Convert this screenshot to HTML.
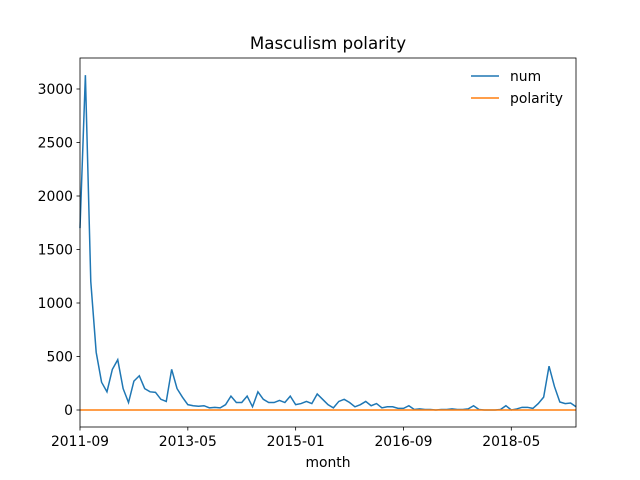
<!DOCTYPE html>
<html><head><meta charset="utf-8"><style>body{margin:0;background:#fff}svg{display:block}text{font-family:"DejaVu Sans","Liberation Sans",sans-serif}</style></head>
<body>
<svg id="c" width="640" height="480"></svg>
<script>
const num=[1700,3130,1200,540,260,170,380,470,200,70,270,320,200,170,165,100,80,380,200,120,50,40,35,40,20,25,20,50,130,70,70,130,30,170,100,70,70,90,70,130,50,60,80,60,150,100,50,20,80,100,70,30,50,80,40,60,20,30,30,15,15,40,5,10,5,5,0,5,5,10,5,5,10,40,5,0,0,0,5,40,0,10,25,25,15,60,120,410,220,75,60,65,30];
const polarity=num.map(()=>0);
const yTicks=[0,500,1000,1500,2000,2500,3000];
const xTickIdx=[0,20,40,60,80];
const xTickLabels=["2011-09","2013-05","2015-01","2016-09","2018-05"];
const NS="http://www.w3.org/2000/svg",svg=document.getElementById('c');
const L=80,R=576,T=58,B=427;
const x=i=>L+(R-L)*i/(num.length-1);
const y=v=>410-v*(321/3000);
function mk(t,a,p){const e=document.createElementNS(NS,t);for(const k in a)e.setAttribute(k,a[k]);(p||svg).appendChild(e);return e;}
function line(d,c,n){const e=mk('path',{d:d.map((v,i)=>(i?'L':'M')+x(i)+','+y(v)).join(''),fill:'none',stroke:c,'stroke-width':1.5});

}
line(num,'#1f77b4','num-line');
line(polarity,'#ff7f0e','polarity-line');
const f=mk('rect',{x:L,y:T,width:R-L,height:B-T,fill:'none',stroke:'#000','stroke-width':0.8});


yTicks.forEach(v=>{mk('line',{x1:L-3.5,x2:L,y1:y(v),y2:y(v),stroke:'#000','stroke-width':0.8});
const t=mk('text',{x:L-7,y:y(v)+5,'text-anchor':'end','font-size':13.9});t.textContent=v;

});
xTickIdx.forEach((i,k)=>{mk('line',{x1:x(i),x2:x(i),y1:B,y2:B+3.5,stroke:'#000','stroke-width':0.8});
const t=mk('text',{x:x(i),y:B+19,'text-anchor':'middle','font-size':13.9});t.textContent=xTickLabels[k];

});
const xt=mk('text',{x:328,y:467,'text-anchor':'middle','font-size':13.9});xt.textContent='month';


const ti=mk('text',{x:328,y:49,'text-anchor':'middle','font-size':16.7});ti.textContent='Masculism polarity';


[['num','#1f77b4',76],['polarity','#ff7f0e',98]].forEach(([n,c,yy])=>{
const g=mk('g',{});


mk('line',{x1:471,x2:499,y1:yy,y2:yy,stroke:c,'stroke-width':1.5},g);
const t=mk('text',{x:510,y:yy+5,'font-size':13.9},g);t.textContent=n;});
</script>
</body></html>
